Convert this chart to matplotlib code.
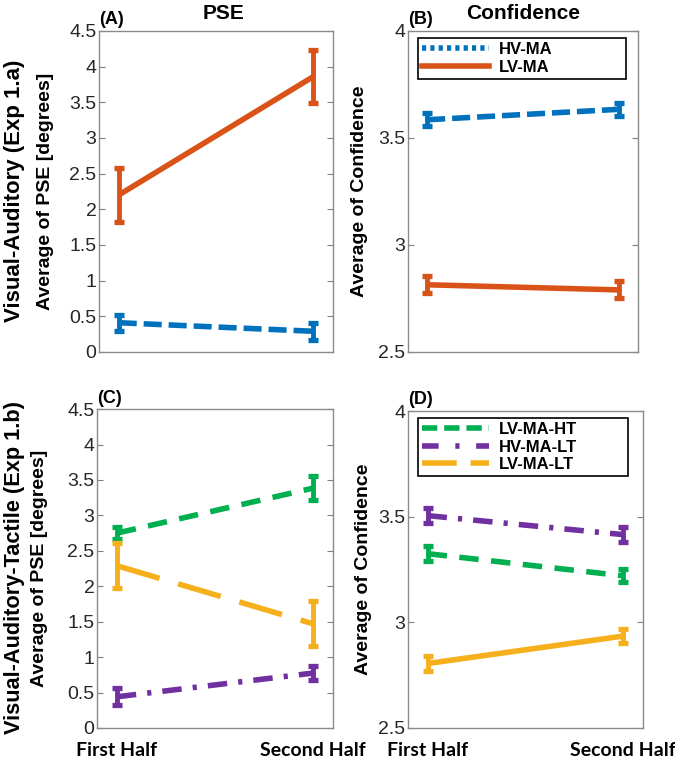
import numpy as np
import matplotlib
matplotlib.use('Agg')
import matplotlib.pyplot as plt
from matplotlib.lines import Line2D

plt.rcParams['font.family'] = ['Liberation Sans', 'DejaVu Sans']
plt.rcParams['lines.scale_dashes'] = False

# Data
halves = ['First Half', 'Second Half']
x_pos = [1, 2]

# (A) PSE, Exp 1.a
pse_a_hv = [0.41, 0.29]
pse_a_hv_err = [0.11, 0.12]
pse_a_lv = [2.20, 3.86]
pse_a_lv_err = [0.38, 0.37]

# (B) Confidence, Exp 1.a
conf_b_hv = [3.585, 3.634]
conf_b_hv_err = [0.03, 0.03]
conf_b_lv = [2.814, 2.790]
conf_b_lv_err = [0.04, 0.04]

# (C) PSE, Exp 1.b
pse_c_lvht = [2.75, 3.385]
pse_c_lvht_err = [0.08, 0.165]
pse_c_hvlt = [0.44, 0.775]
pse_c_hvlt_err = [0.12, 0.095]
pse_c_lvlt = [2.29, 1.47]
pse_c_lvlt_err = [0.32, 0.32]

# (D) Confidence, Exp 1.b
conf_d_lvht = [3.325, 3.22]
conf_d_lvht_err = [0.035, 0.03]
conf_d_hvlt = [3.505, 3.415]
conf_d_hvlt_err = [0.035, 0.035]
conf_d_lvlt = [2.805, 2.935]
conf_d_lvlt_err = [0.035, 0.035]

# Colors and line styles
c_blue = '#0072BD'
c_orange = '#D95319'
c_green = '#00B050'
c_purple = '#7030A0'
c_yellow = '#F5B01C'

ls_dash = (0, (13, 5))
ls_green = (0, (14, 9))
ls_dashdot = (0, (14, 8, 3, 8))
ls_long = (0, (32, 14))
ls_dot = (0, (3, 3))

LW = 4.0


def plotSeries(ax, y, err, color, ls):
    """ Draw a line with solid error bars. """
    ax.plot(x_pos, y, color=color, linestyle=ls, linewidth=LW, solid_capstyle='butt',
        dash_capstyle='butt', zorder=3)
    ax.errorbar(x_pos, y, yerr=err, fmt='none', ecolor=color, elinewidth=3.5,
        capsize=3.6, capthick=3.8, zorder=4)


def styleAxes(ax, ylim, yticks, ylabel, show_x, label_x):
    ax.set_xlim(0.9, 2.1)
    ax.set_ylim(*ylim)
    ax.set_yticks(yticks)
    ax.set_yticklabels([('%g' % t) for t in yticks])
    ax.tick_params(axis='y', direction='in', left=True, right=True, length=4,
        labelsize=14, labelcolor='#262626', color='#808080', pad=2)
    if show_x:
        ax.set_xticks(x_pos)
        ax.set_xticklabels(halves, fontfamily='Lato', fontweight='bold', fontsize=14)
        ax.tick_params(axis='x', length=0, pad=10)
    else:
        ax.set_xticks([])
    for sp in ax.spines.values():
        sp.set_color('#8a8a8a')
        sp.set_linewidth(1.0)
    ax.set_ylabel(ylabel, fontsize=14, fontweight='bold')
    ax.yaxis.set_label_coords(label_x, 0.5)


fig = plt.figure(figsize=(6.75, 7.61), dpi=100)

ax_a = fig.add_axes([0.147, 0.5375, 0.346, 0.4218])
ax_b = fig.add_axes([0.6044, 0.5375, 0.341, 0.4218])
ax_c = fig.add_axes([0.144, 0.0434, 0.349, 0.419])
ax_d = fig.add_axes([0.6044, 0.0434, 0.348, 0.4165])

# Panel A
plotSeries(ax_a, pse_a_hv, pse_a_hv_err, c_blue, ls_dash)
plotSeries(ax_a, pse_a_lv, pse_a_lv_err, c_orange, '-')
styleAxes(ax_a, (0, 4.5), np.arange(0, 4.51, 0.5), 'Average of PSE [degrees]', False, -0.194)

# Panel B
plotSeries(ax_b, conf_b_hv, conf_b_hv_err, c_blue, ls_dash)
plotSeries(ax_b, conf_b_lv, conf_b_lv_err, c_orange, '-')
styleAxes(ax_b, (2.5, 4), [2.5, 3, 3.5, 4], 'Average of Confidence', False, -0.174)
handles_b = [Line2D([], [], color=c_blue, linestyle=ls_dot, linewidth=LW),
    Line2D([], [], color=c_orange, linestyle='-', linewidth=LW)]
leg = ax_b.legend(handles_b, ['HV-MA', 'LV-MA'], loc='upper left',
    bbox_to_anchor=(0.043, 0.0, 0.904, 0.978), mode='expand', borderaxespad=0,
    fancybox=False, edgecolor='black', framealpha=1, handlelength=4.0,
    prop={'weight': 'bold', 'size': 12}, labelspacing=0.15, borderpad=0.25,
    handletextpad=0.6)
leg.get_frame().set_linewidth(1.2)

# Panel C
plotSeries(ax_c, pse_c_lvht, pse_c_lvht_err, c_green, ls_green)
plotSeries(ax_c, pse_c_lvlt, pse_c_lvlt_err, c_yellow, ls_long)
plotSeries(ax_c, pse_c_hvlt, pse_c_hvlt_err, c_purple, ls_dashdot)
styleAxes(ax_c, (0, 4.5), np.arange(0, 4.51, 0.5), 'Average of PSE [degrees]', True, -0.21)

# Panel D
plotSeries(ax_d, conf_d_lvht, conf_d_lvht_err, c_green, ls_green)
plotSeries(ax_d, conf_d_hvlt, conf_d_hvlt_err, c_purple, ls_dashdot)
plotSeries(ax_d, conf_d_lvlt, conf_d_lvlt_err, c_yellow, '-')
styleAxes(ax_d, (2.5, 4), [2.5, 3, 3.5, 4], 'Average of Confidence', True, -0.153)
handles_d = [Line2D([], [], color=c_green, linestyle=(0, (11, 5)), linewidth=LW),
    Line2D([], [], color=c_purple, linestyle=(0, (12, 12, 3, 12)), linewidth=LW),
    Line2D([], [], color=c_yellow, linestyle=(0, (25, 10)), linewidth=LW)]
leg = ax_d.legend(handles_d, ['LV-MA-HT', 'HV-MA-LT', 'LV-MA-LT'], loc='upper left',
    bbox_to_anchor=(0.043, 0.0, 0.894, 0.978), mode='expand', borderaxespad=0,
    fancybox=False, edgecolor='black', framealpha=1, handlelength=4.0,
    prop={'weight': 'bold', 'size': 12}, labelspacing=0.15, borderpad=0.25,
    handletextpad=0.6)
leg.get_frame().set_linewidth(1.2)

# Panel letters and column titles
for ax, letter in zip([ax_a, ax_b, ax_c, ax_d], ['(A)', '(B)', '(C)', '(D)']):
    ax.text(0.0, 1.008, letter, transform=ax.transAxes, fontsize=13, fontweight='bold',
        ha='left', va='bottom')

ax_a.text(0.53, 1.055, 'PSE', transform=ax_a.transAxes, fontsize=15, fontweight='bold',
    ha='center', va='center')
ax_b.text(0.5, 1.055, 'Confidence', transform=ax_b.transAxes, fontsize=15, fontweight='bold',
    ha='center', va='center')

# Row labels
fig.text(0.022, 0.749, 'Visual-Auditory (Exp 1.a)', rotation=90, fontsize=16,
    fontweight='bold', ha='center', va='center')
fig.text(0.022, 0.254, 'Visual-Auditory-Tactile (Exp 1.b)', rotation=90, fontsize=15.7,
    fontweight='bold', ha='center', va='center')

fig.savefig('out.png', dpi=100)
